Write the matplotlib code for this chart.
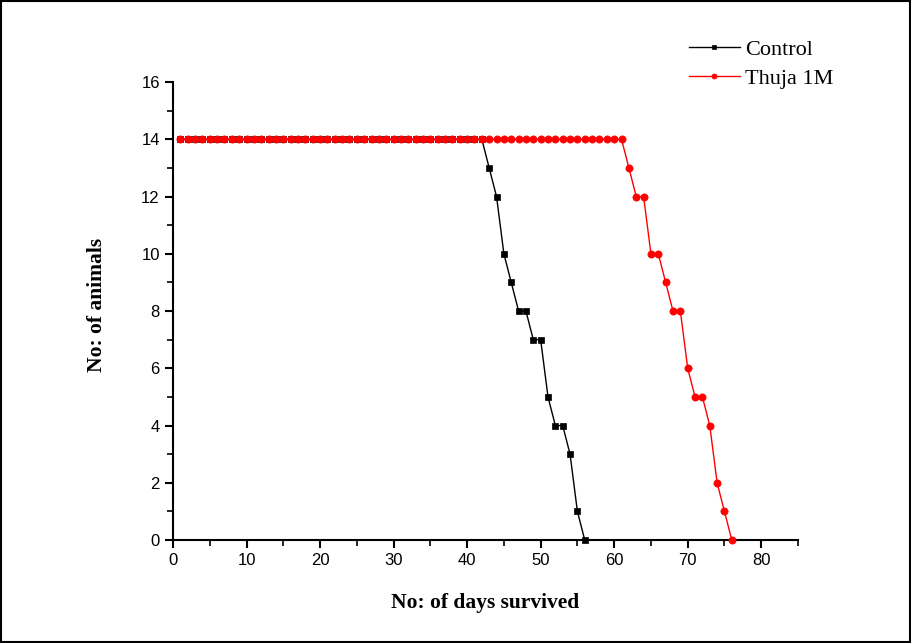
import matplotlib.pyplot as plt
from matplotlib.patches import Rectangle
from matplotlib.ticker import MultipleLocator

# days and number of animals alive
control_days = list(range(1, 57))
control_alive = [14] * 42 + [13, 12, 10, 9, 8, 8, 7, 7, 5, 4, 4, 3, 1, 0]

thuja_days = list(range(1, 77))
thuja_alive = [14] * 61 + [13, 12, 12, 10, 10, 9, 8, 8, 6, 5, 5, 4, 2, 1, 0]

fig = plt.figure(figsize=(9.12, 6.43), dpi=100)
ax = fig.add_axes([0.1897, 0.160, 0.6853, 0.7125])

ax.plot(control_days, control_alive, color='black', lw=1, marker='s',
        markersize=4.6, markeredgewidth=0.5, label='Control',
        clip_on=False, zorder=3)
ax.plot(thuja_days, thuja_alive, color='red', lw=1, marker='o',
        markersize=5.2, markeredgewidth=0.5, label='Thuja 1M',
        clip_on=False, zorder=3)

ax.set_xlim(0, 85)
ax.set_ylim(0, 16)
ax.xaxis.set_major_locator(MultipleLocator(10))
ax.xaxis.set_minor_locator(MultipleLocator(5))
ax.yaxis.set_major_locator(MultipleLocator(2))
ax.yaxis.set_minor_locator(MultipleLocator(1))

for s in ['top', 'right']:
    ax.spines[s].set_visible(False)
for s in ['left', 'bottom']:
    ax.spines[s].set_linewidth(1.5)

ax.tick_params(which='major', direction='out', length=6, width=1.5,
               labelsize=12)
ax.tick_params(which='minor', direction='out', length=4, width=1.2)
for lbl in ax.get_xticklabels() + ax.get_yticklabels():
    lbl.set_fontfamily('Liberation Sans')

ax.set_xlabel('No: of days survived', fontsize=15.5, fontweight='bold',
              family='Liberation Serif', labelpad=18)
ax.set_ylabel('No: of animals', fontsize=15.5, fontweight='bold',
              family='Liberation Serif')
ax.yaxis.set_label_coords(-0.105, 0.513)

ax.legend(loc='upper left', bbox_to_anchor=(0.793, 1.137), frameon=False,
          prop={'family': 'Liberation Serif', 'size': 16},
          handlelength=2.3, labelspacing=0.38, handletextpad=0.25,
          markerscale=0.7)

fig.patches.append(Rectangle((0.001, 0.001), 0.997, 0.997,
                             transform=fig.transFigure, fill=False,
                             edgecolor='black', lw=1.5))

fig.savefig('out.png', dpi=100)
